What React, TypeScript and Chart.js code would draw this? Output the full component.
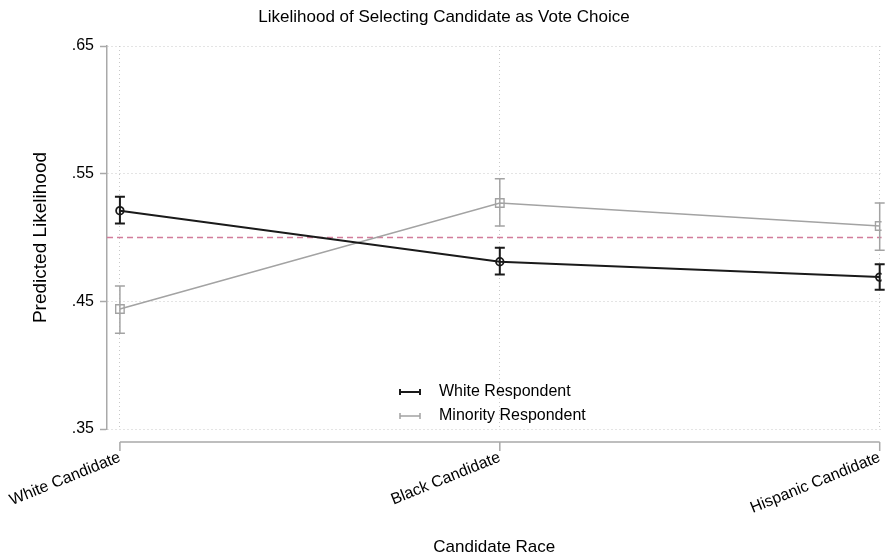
import React, { useEffect, useRef } from "react";
import { Chart, registerables } from "chart.js";

Chart.register(...registerables);

// Candidate race categories along the x axis
const categories = ["White Candidate", "Black Candidate", "Hispanic Candidate"];

// Predicted likelihood with 95% intervals, white respondents
const whiteRespondent = [0.521, 0.481, 0.469];
const whiteLower = [0.511, 0.471, 0.459];
const whiteUpper = [0.532, 0.492, 0.479];

// Predicted likelihood with 95% intervals, minority respondents
const minorityRespondent = [0.444, 0.527, 0.509];
const minorityLower = [0.425, 0.509, 0.49];
const minorityUpper = [0.462, 0.546, 0.527];

// Y axis ticks and labels
const yTicks = [0.35, 0.45, 0.55, 0.65];
const yTickLabels = [".35", ".45", ".55", ".65"];

// Chance level reference line
const referenceLine = 0.5;

const seriesLabels = ["White Respondent", "Minority Respondent"];

const FONT = "'Liberation Sans', Arial, Helvetica, sans-serif";
const AXIS_GRAY = "#a9a9a9";
const GRID_GRAY = "#c8c8c8";
const WHITE_COLOR = "#1a1a1a";
const MINORITY_COLOR = "#a3a3a3";

const errorBars = [
  { color: WHITE_COLOR, width: 2, lower: whiteLower, upper: whiteUpper },
  { color: MINORITY_COLOR, width: 1.5, lower: minorityLower, upper: minorityUpper },
];

const stataPlugin = {
  id: "stataDecor",
  beforeDatasetsDraw(chart: any) {
    const { ctx, chartArea, scales } = chart;
    const x = scales.x;
    const y = scales.y;

    // dashed reference line across the plot region
    ctx.save();
    ctx.strokeStyle = "#d27d9b";
    ctx.lineWidth = 1.3;
    ctx.setLineDash([6, 4]);
    const ry = y.getPixelForValue(referenceLine);
    ctx.beginPath();
    ctx.moveTo(chartArea.left, ry);
    ctx.lineTo(chartArea.right, ry);
    ctx.stroke();
    ctx.restore();

    // confidence interval whiskers with caps
    const cap = 5;
    errorBars
      .slice()
      .reverse()
      .forEach((eb) => {
        ctx.save();
        ctx.strokeStyle = eb.color;
        ctx.lineWidth = eb.width;
        eb.lower.forEach((lo, i) => {
          const px = x.getPixelForValue(i);
          const pLo = y.getPixelForValue(lo);
          const pHi = y.getPixelForValue(eb.upper[i]);
          ctx.beginPath();
          ctx.moveTo(px, pLo);
          ctx.lineTo(px, pHi);
          ctx.moveTo(px - cap, pLo);
          ctx.lineTo(px + cap, pLo);
          ctx.moveTo(px - cap, pHi);
          ctx.lineTo(px + cap, pHi);
          ctx.stroke();
        });
        ctx.restore();
      });
  },
  afterDraw(chart: any) {
    const { ctx, chartArea, scales } = chart;
    const x = scales.x;

    // detached x axis line with outward ticks
    const axisY = chartArea.bottom + 13;
    const x0 = x.getPixelForValue(0);
    const x1 = x.getPixelForValue(categories.length - 1);
    ctx.save();
    ctx.strokeStyle = AXIS_GRAY;
    ctx.lineWidth = 1.5;
    ctx.beginPath();
    ctx.moveTo(x0, axisY);
    ctx.lineTo(x1, axisY);
    categories.forEach((_, i) => {
      const px = x.getPixelForValue(i);
      ctx.moveTo(px, axisY);
      ctx.lineTo(px, axisY + 9);
    });
    ctx.stroke();
    ctx.restore();

    // legend inside the plot region
    const legendX = 400;
    const rows = [392, 416];
    ctx.save();
    ctx.font = `16px ${FONT}`;
    ctx.textBaseline = "middle";
    ctx.textAlign = "left";
    chart.data.datasets.forEach((ds: any, i: number) => {
      const ly = rows[i];
      ctx.strokeStyle = ds.borderColor;
      ctx.lineWidth = i === 0 ? 2 : 1.5;
      ctx.beginPath();
      ctx.moveTo(legendX, ly);
      ctx.lineTo(legendX + 20, ly);
      ctx.moveTo(legendX, ly - 3);
      ctx.lineTo(legendX, ly + 3);
      ctx.moveTo(legendX + 20, ly - 3);
      ctx.lineTo(legendX + 20, ly + 3);
      ctx.stroke();
      ctx.fillStyle = "#000";
      ctx.fillText(ds.label, legendX + 39, ly);
    });
    ctx.restore();
  },
};

export default function App() {
  const canvasRef = useRef<HTMLCanvasElement | null>(null);

  useEffect(() => {
    if (!canvasRef.current) return;
    const chart = new Chart(canvasRef.current, {
      type: "line",
      data: {
        datasets: [
          {
            label: seriesLabels[0],
            data: whiteRespondent.map((v, i) => ({ x: i, y: v })),
            borderColor: WHITE_COLOR,
            borderWidth: 2,
            pointStyle: "circle",
            pointRadius: 3.8,
            pointBorderWidth: 1.8,
            pointBorderColor: WHITE_COLOR,
            pointBackgroundColor: "rgba(0,0,0,0)",
            tension: 0,
          },
          {
            label: seriesLabels[1],
            data: minorityRespondent.map((v, i) => ({ x: i, y: v })),
            borderColor: MINORITY_COLOR,
            borderWidth: 1.6,
            pointStyle: "rect",
            pointRadius: 6,
            pointBorderWidth: 1.4,
            pointBorderColor: MINORITY_COLOR,
            pointBackgroundColor: "rgba(0,0,0,0)",
            tension: 0,
          },
        ],
      },
      options: {
        responsive: false,
        animation: false,
        layout: { padding: { left: 0, right: 1, top: 0, bottom: 0 } },
        plugins: {
          legend: { display: false },
          tooltip: { enabled: false },
          title: {
            display: true,
            text: "Likelihood of Selecting Candidate as Vote Choice",
            color: "#000",
            font: { family: FONT, size: 17, weight: "normal", lineHeight: 1.2 },
            padding: { top: 7, bottom: 18.6 },
          },
        },
        scales: {
          x: {
            type: "linear",
            min: -0.034,
            max: 2.005,
            afterBuildTicks: (scale: any) => {
              scale.ticks = categories.map((_, i) => ({ value: i }));
            },
            afterFit: (scale: any) => {
              scale.height = 126;
            },
            ticks: {
              autoSkip: false,
              maxRotation: 22,
              minRotation: 22,
              padding: 2,
              color: "#000",
              font: { family: FONT, size: 16 },
              callback: (v: any) => categories[Number(v)] ?? "",
            },
            border: { display: false, dash: [1, 3] },
            grid: {
              color: GRID_GRAY,
              lineWidth: 1,
              tickColor: "rgba(0,0,0,0)",
              tickLength: 17,
            },
            title: {
              display: true,
              text: "Candidate Race",
              color: "#000",
              font: { family: FONT, size: 17 },
              padding: { top: 0, bottom: -3 },
            },
          },
          y: {
            type: "linear",
            min: 0.35,
            max: 0.65,
            afterBuildTicks: (scale: any) => {
              scale.ticks = yTicks.map((v) => ({ value: v }));
            },
            afterFit: (scale: any) => {
              scale.width = 107;
            },
            ticks: {
              padding: 6,
              color: "#000",
              font: { family: FONT, size: 16 },
              callback: (v: any) => {
                const idx = yTicks.findIndex((t) => Math.abs(t - Number(v)) < 1e-6);
                return idx >= 0 ? yTickLabels[idx] : "";
              },
            },
            border: { display: true, color: AXIS_GRAY, width: 1.5, dash: [1, 3] },
            grid: {
              color: GRID_GRAY,
              lineWidth: 1,
              tickColor: AXIS_GRAY,
              tickBorderDash: [],
              tickWidth: 1.5,
              tickLength: 7,
            },
            title: {
              display: true,
              text: "Predicted Likelihood",
              color: "#000",
              font: { family: FONT, size: 19 },
              padding: { top: 29, bottom: 0 },
            },
          },
        },
      },
      plugins: [stataPlugin],
    } as any);
    return () => chart.destroy();
  }, []);

  return (
    <div style={{ position: "absolute", left: 0, top: 0, width: 889, height: 555, background: "#fff" }}>
      <canvas ref={canvasRef} width={889} height={555} />
    </div>
  );
}
